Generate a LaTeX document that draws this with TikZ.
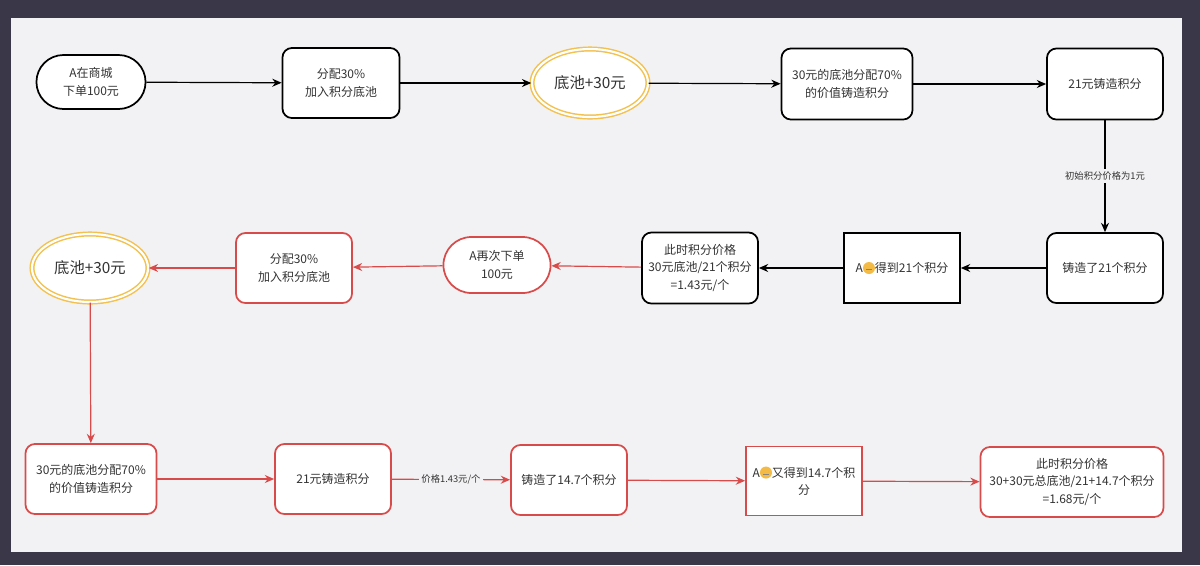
\documentclass[tikz,border=0pt]{standalone}
\usepackage{fontspec}
\setmainfont{Noto Sans CJK SC}
\usetikzlibrary{arrows.meta,shapes.geometric,shapes.misc}
\definecolor{bgd}{HTML}{3A3848}
\definecolor{panel}{HTML}{F2F2F4}
\definecolor{rd}{HTML}{D94B4B}
\definecolor{gold}{HTML}{F2C14E}
\definecolor{txt}{HTML}{333333}
\newcommand{\emo}{\tikz[baseline=-0.7ex]{\fill[gold!90!orange] (0,0) circle (4.5pt);\draw[txt!60,line width=0.5pt] (-2pt,-1pt) -- (2pt,-1pt);}}
\begin{document}
\begin{tikzpicture}[x=0.75pt,y=-0.75pt,font=\fontsize{9}{13}\selectfont,text=txt,
 box/.style={draw,line width=1.3pt,rounded corners=7pt,fill=white,align=center,inner sep=2pt},
 blk/.style={box,draw=black},
 red/.style={box,draw=rd},
 sq/.style={draw,line width=1.3pt,fill=white,align=center,inner sep=2pt},
 pill/.style={draw,line width=1.3pt,rounded rectangle,fill=white,align=center},
 pool/.style={ellipse,draw=gold,double=white,double distance=1.6pt,line width=1.1pt,fill=white,minimum width=116pt*0.75,minimum height=68pt*0.75,font=\fontsize{11.5}{14}\selectfont},
 ab/.style={-{Stealth[length=7pt,width=6pt]},line width=0.9pt,black},
 ar/.style={-{Stealth[length=7pt,width=6pt]},line width=0.9pt,rd},
 lab/.style={fill=panel,text=txt,font=\fontsize{7}{9}\selectfont,inner sep=2pt}]
\fill[bgd] (0,0) rectangle (1200,565);
\fill[panel] (11,18) rectangle (1182,552);
\useasboundingbox (0,0) rectangle (1200,565);
% row1
\node[pill,draw=black,minimum width=118*0.75pt,minimum height=54*0.75pt] (n1) at (91,82) {A在商城\\下单100元};
\node[blk,minimum width=117*0.75pt,minimum height=70*0.75pt] (n2) at (341,83) {分配30\%\\加入积分底池};
\node[pool] (n3) at (590,83) {底池+30元};
\node[blk,minimum width=131*0.75pt,minimum height=71*0.75pt] (n4) at (847,84) {30元的底池分配70\%\\的价值铸造积分};
\node[blk,minimum width=116*0.75pt,minimum height=71*0.75pt] (n5) at (1105,84) {21元铸造积分};
% row2
\node[blk,minimum width=116*0.75pt,minimum height=70*0.75pt] (n6) at (1105,268) {铸造了21个积分};
\node[sq,draw=black,minimum width=116*0.75pt,minimum height=70*0.75pt] (n7) at (902,268) {A\emo 得到21个积分};
\node[blk,minimum width=116*0.75pt,minimum height=71*0.75pt] (n8) at (700,268) {此时积分价格\\30元底池/21个积分\\=1.43元/个};
\node[pill,draw=rd,minimum width=116*0.75pt,minimum height=56*0.75pt] (n9) at (497,265) {A再次下单\\100元};
\node[red,minimum width=116*0.75pt,minimum height=70*0.75pt] (n10) at (294,268) {分配30\%\\加入积分底池};
\node[pool] (n11) at (90,268) {底池+30元};
% row3
\node[red,minimum width=131*0.75pt,minimum height=70*0.75pt] (n12) at (91,479) {30元的底池分配70\%\\的价值铸造积分};
\node[red,minimum width=116*0.75pt,minimum height=70*0.75pt] (n13) at (333,479) {21元铸造积分};
\node[red,minimum width=116*0.75pt,minimum height=70*0.75pt] (n14) at (569,480) {铸造了14.7个积分};
\node[sq,draw=rd,minimum width=116*0.75pt,minimum height=69*0.75pt] (n15) at (804,481) {A\emo 又得到14.7个积\\分};
\node[red,minimum width=183*0.75pt,minimum height=70*0.75pt] (n16) at (1072,482) {此时积分价格\\30+30元总底池/21+14.7个积分\\=1.68元/个};
% arrows
\draw[ab] (n1) -- (n2);
\draw[ab] (n2) -- (n3);
\draw[ab] (n3) -- (n4);
\draw[ab] (n4) -- (n5);
\draw[ab] (n5) -- node[lab]{初始积分价格为1元} (n6);
\draw[ab] (n6) -- (n7);
\draw[ab] (n7) -- (n8);
\draw[ar] (n8) -- (n9);
\draw[ar] (n9) -- (n10);
\draw[ar] (n10) -- (n11);
\draw[ar] (n11) -- (n12);
\draw[ar] (n12) -- (n13);
\draw[ar] (n13) -- node[lab]{价格1.43元/个} (n14);
\draw[ar] (n14) -- (n15);
\draw[ar] (n15) -- (n16);
\end{tikzpicture}
\end{document}
